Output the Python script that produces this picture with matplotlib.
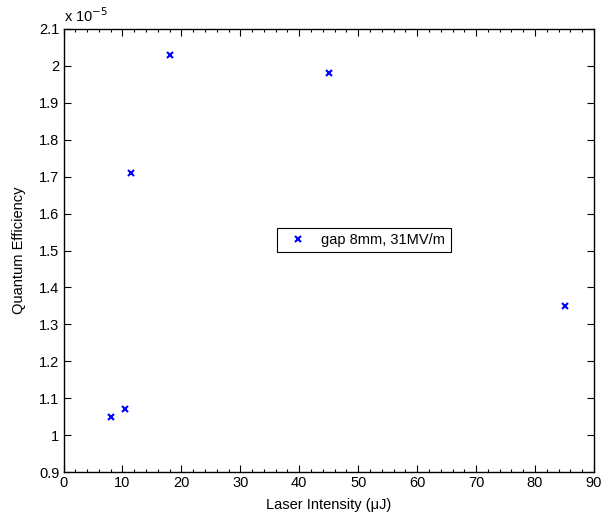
import matplotlib
matplotlib.use('Agg')
import matplotlib.pyplot as plt
from matplotlib.ticker import MultipleLocator, FuncFormatter

# data
laser_uj = [8, 10.5, 11.5, 18, 45, 85]
qe = [1.05e-5, 1.07e-5, 1.71e-5, 2.03e-5, 1.98e-5, 1.35e-5]
scale = 1e-5

plt.rcParams['font.family'] = ['Liberation Sans', 'DejaVu Sans']
plt.rcParams['font.size'] = 10.5

fig = plt.figure(figsize=(6.01, 5.15), dpi=100)
ax = fig.add_axes([63.5 / 601, 1 - 472 / 515, 530.5 / 601, 443 / 515])

ax.plot(laser_uj, qe, 'x', color='blue', markersize=5, markeredgewidth=1.5,
        label='gap 8mm, 31MV/m')

ax.set_xlim(0, 90)
ax.set_ylim(0.9e-5, 2.1e-5)
ax.xaxis.set_major_locator(MultipleLocator(10))
ax.xaxis.set_minor_locator(MultipleLocator(2))
ax.yaxis.set_major_locator(MultipleLocator(0.1e-5))
ax.yaxis.set_major_formatter(FuncFormatter(lambda v, p: f'{v / scale:.2f}'.rstrip('0').rstrip('.')))

ax.tick_params(which='both', direction='in', top=True, right=True, labelsize=10.5, width=0.8)
ax.tick_params(which='major', length=5, pad=3)
ax.tick_params(which='minor', length=2.5)
for s in ax.spines.values():
    s.set_linewidth(1.0)

ax.text(0, 1.01, r'x 10$^{-5}$', transform=ax.transAxes, ha='left', va='bottom', fontsize=10.5)

ax.set_xlabel('Laser Intensity (\u03bcJ)', fontsize=10.5, labelpad=6)
ax.set_ylabel('Quantum Efficiency', fontsize=10.5, labelpad=9)

leg = ax.legend(loc='center', bbox_to_anchor=(0.566, 0.523), fancybox=False,
                edgecolor='black', framealpha=1, handlelength=2.2, handletextpad=0.5,
                borderpad=0.35)
leg.get_frame().set_linewidth(0.8)

fig.savefig('out.png', dpi=100)
